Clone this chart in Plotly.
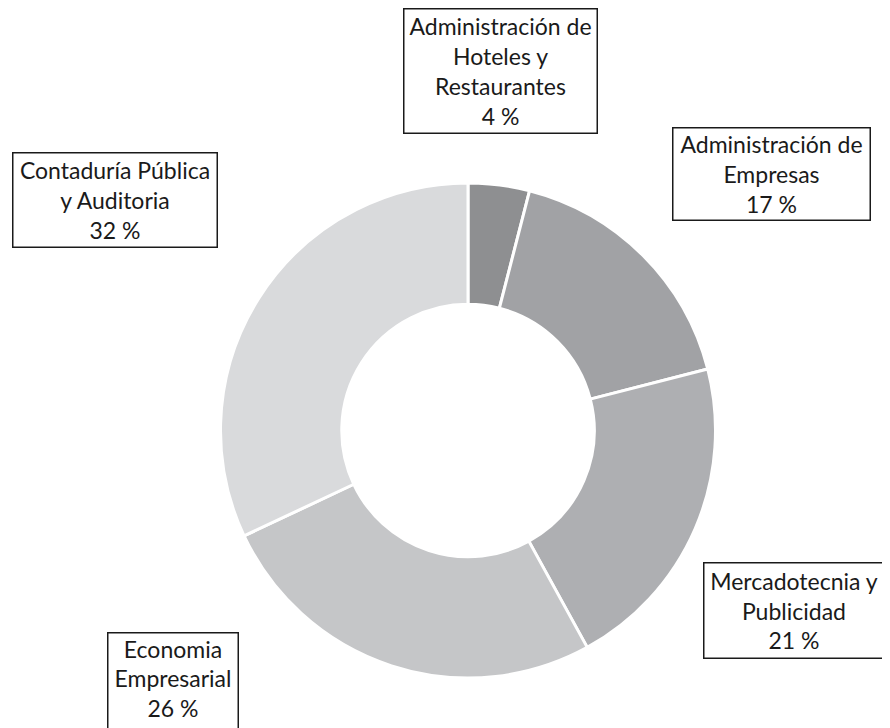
'''
Donut chart: distribucion por programa academico
'''
import plotly.graph_objects as go

# datos del grafico
programas = ['Administración de Hoteles y Restaurantes',
             'Administración de Empresas',
             'Mercadotecnia y Publicidad',
             'Economia Empresarial',
             'Contaduría Pública y Auditoria']
porcentajes = [4, 17, 21, 26, 32]
etiquetas = ['Administración de<br>Hoteles y<br>Restaurantes',
             'Administración de<br>Empresas',
             'Mercadotecnia y<br>Publicidad',
             'Economia<br>Empresarial',
             'Contaduría Pública<br>y Auditoria']
colores = ['#8e8f91', '#a1a2a5', '#aeafb2', '#c5c6c8', '#d9dadc']

W, H = 890, 728
OFF = 8  # margen del body en la pagina

fig = go.Figure()

fig.add_trace(go.Pie(labels=programas,
                     values=porcentajes,
                     hole=0.51,
                     sort=False,
                     direction='clockwise',
                     rotation=0,
                     marker=dict(colors=colores, line=dict(color='white', width=3)),
                     textinfo='none',
                     showlegend=False,
                     domain=dict(x=[(220.5 - OFF) / W, (715.5 - OFF) / W],
                                 y=[(H - 678 + OFF) / H, (H - 183 + OFF) / H])))

# cajas de etiquetas: (x0, y0, x1, y1) en pixeles desde arriba-izquierda
cajas = [(403, 8, 597, 133),
         (672, 127, 870, 220),
         (703, 562, 884, 658),
         (107, 632, 238, 770),
         (12, 152, 217, 247)]

for etiqueta, pct, (x0, y0, x1, y1) in zip(etiquetas, porcentajes, cajas):
    fig.add_annotation(x=((x0 + x1) / 2 - OFF) / W,
                       y=1 - (y0 - OFF) / H,
                       xref='paper', yref='paper',
                       xanchor='center', yanchor='top',
                       text=f'{etiqueta}<br>{pct} %',
                       showarrow=False,
                       width=x1 - x0 - 4,
                       height=y1 - y0 - 4,
                       valign='top' if y1 > H else 'middle',
                       bordercolor='#1a1a1a',
                       borderwidth=1.5,
                       borderpad=1,
                       bgcolor='white',
                       font=dict(family='Lato', size=23, color='#1a1a1a'))

fig.update_layout(width=W, height=H,
                  margin=dict(l=0, r=0, t=0, b=0),
                  paper_bgcolor='white',
                  plot_bgcolor='white')

fig.write_html('out.html')
